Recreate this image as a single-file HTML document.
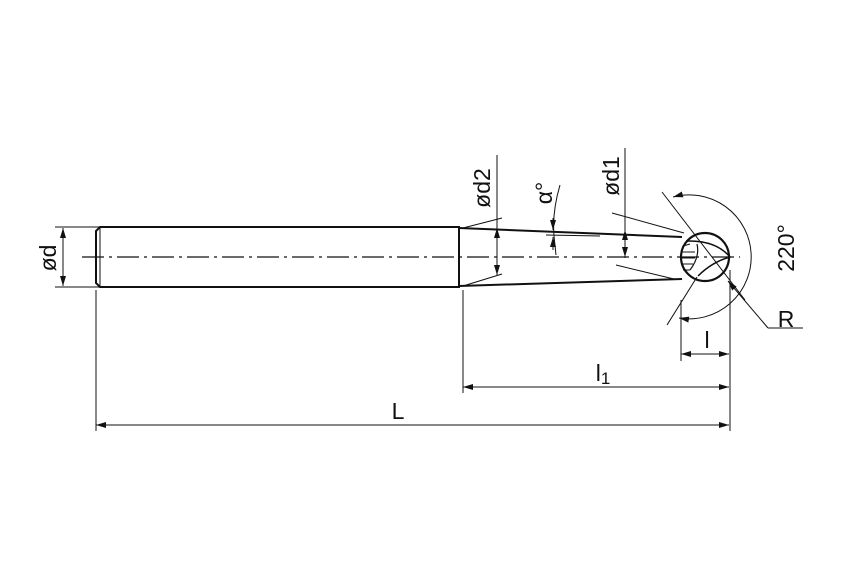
<!DOCTYPE html>
<html><head><meta charset="utf-8"><style>
html,body{margin:0;padding:0;background:#fff;}
svg{display:block}
text{font-family:"Liberation Sans",sans-serif;fill:#111;}
</style></head><body>
<svg width="850" height="567" viewBox="0 0 850 567" xmlns="http://www.w3.org/2000/svg">
<defs>
<marker id="a" viewBox="0 0 10 6" refX="10" refY="3" markerWidth="10" markerHeight="6" orient="auto-start-reverse" markerUnits="userSpaceOnUse"><path d="M0,0 L10,3 L0,6 z" fill="#111"/></marker>
</defs>
<g stroke="#111" fill="none">
<line x1="82" y1="257" x2="740" y2="257" stroke-width="1.2" stroke-dasharray="22,5,3,5"/>
<path d="M100,227 L459,227 L459,287 L100,287 L96,283 L96,231 Z" stroke-width="2"/>
<line x1="100" y1="227" x2="100" y2="287" stroke-width="1"/>
<line x1="459" y1="228" x2="682" y2="237" stroke-width="2"/>
<line x1="459" y1="286" x2="682" y2="279" stroke-width="2"/>
<circle cx="705" cy="257" r="24" stroke-width="2.2"/>
<path d="M683,246 L690,244 M681,252 L695,252 M681,258 L695,258 M681,264 L693,264 M683,270 L690,270" stroke-width="1"/>
<path d="M686,241 Q716,240 730,257 Q712,262 698,276" stroke-width="1.5"/>
<path d="M697,244 Q700,257 690,270" stroke-width="1.2"/>
<line x1="55" y1="227" x2="100" y2="227" stroke-width="1"/>
<line x1="55" y1="287" x2="100" y2="287" stroke-width="1"/>
<line x1="63" y1="228" x2="63" y2="286" stroke-width="1" marker-start="url(#a)" marker-end="url(#a)"/>
<line x1="497" y1="155" x2="497" y2="275" stroke-width="1"/>
<line x1="497" y1="228" x2="497" y2="275" stroke-width="1" marker-start="url(#a)" marker-end="url(#a)"/>
<line x1="463" y1="228" x2="502" y2="218" stroke-width="1"/>
<line x1="463" y1="286" x2="502" y2="274" stroke-width="1"/>
<path d="M560,185 Q552,212 554,236 Q555,245 556,255" stroke-width="1"/>
<line x1="553" y1="218" x2="553" y2="230" stroke-width="1" marker-end="url(#a)"/>
<line x1="553" y1="250" x2="553" y2="237" stroke-width="1" marker-end="url(#a)"/>
<line x1="546" y1="235" x2="600" y2="236" stroke-width="1"/>
<line x1="625" y1="148" x2="625" y2="258" stroke-width="1"/>
<line x1="625" y1="230" x2="625" y2="257" stroke-width="1" marker-start="url(#a)" marker-end="url(#a)"/>
<line x1="612" y1="213" x2="684" y2="233" stroke-width="1"/>
<line x1="616" y1="265" x2="674" y2="279" stroke-width="1"/>
<line x1="662" y1="192" x2="745" y2="300" stroke-width="1"/>
<line x1="697" y1="277" x2="667" y2="325" stroke-width="1"/>
<path d="M673,197 A62,62 0 1 1 679,318" stroke-width="1" marker-start="url(#a)" marker-end="url(#a)"/>
<line x1="728" y1="281" x2="768" y2="328" stroke-width="1" marker-start="url(#a)"/>
<line x1="768" y1="328" x2="803" y2="328" stroke-width="1"/>
<line x1="96" y1="290" x2="96" y2="431" stroke-width="1"/>
<line x1="463" y1="290" x2="463" y2="393" stroke-width="1"/>
<line x1="730" y1="270" x2="730" y2="431" stroke-width="1"/>
<line x1="681" y1="300" x2="681" y2="361" stroke-width="1"/>
<line x1="681" y1="354" x2="729" y2="354" stroke-width="1" marker-start="url(#a)" marker-end="url(#a)"/>
<line x1="463" y1="387" x2="729" y2="387" stroke-width="1" marker-start="url(#a)" marker-end="url(#a)"/>
<line x1="96" y1="425" x2="729" y2="425" stroke-width="1" marker-start="url(#a)" marker-end="url(#a)"/>
</g>
<g font-size="23">
<text transform="translate(56,258) rotate(-90)" text-anchor="middle">ød</text>
<text transform="translate(490,188) rotate(-90)" text-anchor="middle">ød2</text>
<text transform="translate(552,193) rotate(-90)" text-anchor="middle">α°</text>
<text transform="translate(619,176) rotate(-90)" text-anchor="middle">ød1</text>
<text transform="translate(794,248) rotate(-90)" text-anchor="middle">220°</text>
<text x="786" y="327" text-anchor="middle">R</text>
<text x="707" y="348" text-anchor="middle">l</text>
<text x="603" y="381" text-anchor="middle">l<tspan font-size="17" dy="3">1</tspan></text>
<text x="398" y="419" text-anchor="middle">L</text>
</g>
</svg>
</body></html>
